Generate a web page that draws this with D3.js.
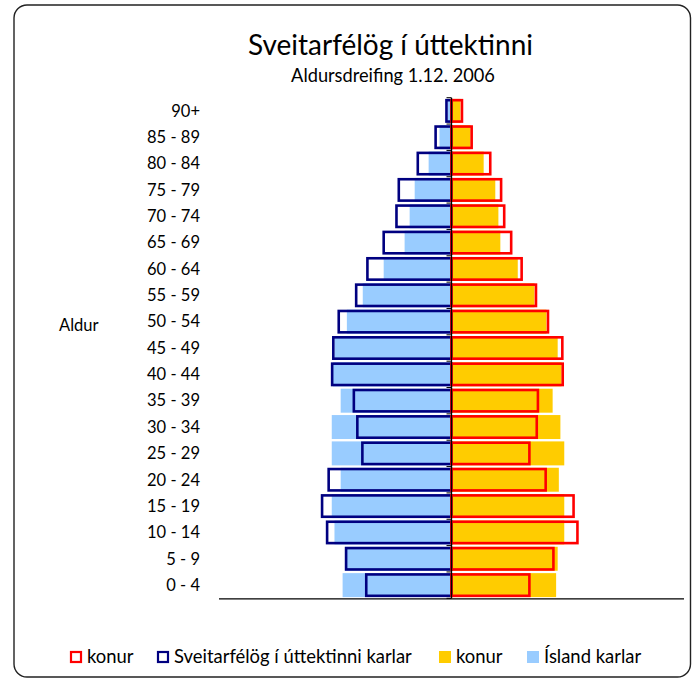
<!DOCTYPE html>
<html>
<head>
<meta charset="utf-8">
<script src="https://cdn.jsdelivr.net/npm/d3@7"></script>
<style>
  html, body { margin: 0; padding: 0; background: #fff; }
  svg { display: block; }
  text { font-family: Lato, "Open Sans", sans-serif; fill: #000; }
</style>
</head>
<body>
<svg id="chart" width="697" height="681"></svg>
<script>
// ---- Data (top to bottom) ----
const categories = ["90+", "85 - 89", "80 - 84", "75 - 79", "70 - 74", "65 - 69", "60 - 64",
  "55 - 59", "50 - 54", "45 - 49", "40 - 44", "35 - 39", "30 - 34", "25 - 29",
  "20 - 24", "15 - 19", "10 - 14", "5 - 9", "0 - 4"];

// Sveitarfélög í úttektinni (outlined bars), % share
const sveitKarlar = [0.13, 0.41, 0.87, 1.36, 1.42, 1.75, 2.17, 2.46, 2.91, 3.05, 3.08,
  2.52, 2.43, 2.30, 3.17, 3.34, 3.21, 2.72, 2.20];
const sveitKonur = [0.27, 0.52, 1.00, 1.28, 1.36, 1.54, 1.81, 2.18, 2.49, 2.86, 2.87,
  2.23, 2.20, 2.01, 2.43, 3.15, 3.25, 2.63, 2.01];

// Ísland (filled bars), % share
const islandKarlar = [0.10, 0.31, 0.59, 0.95, 1.08, 1.21, 1.75, 2.29, 2.70, 3.02, 3.06,
  2.86, 3.09, 3.09, 2.86, 3.09, 3.02, 2.75, 2.81];
const islandKonur = [0.23, 0.49, 0.83, 1.13, 1.21, 1.26, 1.71, 2.14, 2.45, 2.74, 2.84,
  2.61, 2.81, 2.91, 2.77, 2.91, 2.91, 2.74, 2.70];

const titleText = "Sveitarfélög í úttektinni";
const subtitleText = "Aldursdreifing 1.12. 2006";
const axisTitle = "Aldur";
const legendItems = [
  { label: "konur", key: "sveitKonur" },
  { label: "Sveitarfélög í úttektinni karlar", key: "sveitKarlar" },
  { label: "konur", key: "islandKonur" },
  { label: "Ísland karlar", key: "islandKarlar" }
];

// ---- Styles ----
const C = {
  sveitKarlar: "#000080",
  sveitKonur: "#FF0000",
  islandKarlar: "#99CCFF",
  islandKonur: "#FFCC00"
};

(function () {
const svg = d3.select("#chart");

function fit(sel, target) {
  const w = sel.node().getComputedTextLength();
  const fs = parseFloat(sel.attr("font-size"));
  sel.attr("font-size", fs * target / w);
}

// Outer frame
svg.append("rect")
  .attr("x", 14).attr("y", 5).attr("width", 676.5).attr("height", 672)
  .attr("rx", 13).attr("ry", 13)
  .attr("fill", "#fff").attr("stroke", "#222").attr("stroke-width", 1.4);

// Titles
const t = svg.append("text").attr("x", 390.5).attr("y", 55).attr("text-anchor", "middle")
  .attr("font-size", 26).text(titleText);
fit(t, 285);
const st = svg.append("text").attr("x", 393).attr("y", 82).attr("text-anchor", "middle")
  .attr("font-size", 16).text(subtitleText);
fit(st, 204);

// Scales
const x = d3.scaleLinear().domain([-6, 6]).range([219, 684]);
const y = d3.scaleBand().domain(categories).range([97.7, 598.3])
  .paddingInner(0.09).paddingOuter(0.045);

const rows = categories.map((c, i) => ({
  cat: c,
  sveitKarlar: sveitKarlar[i], sveitKonur: sveitKonur[i],
  islandKarlar: islandKarlar[i], islandKonur: islandKonur[i]
}));

const g = svg.append("g");

// Ísland filled bars
g.selectAll(".ik").data(rows).join("rect")
  .attr("x", d => x(-d.islandKarlar)).attr("y", d => y(d.cat))
  .attr("width", d => x(0) - x(-d.islandKarlar)).attr("height", y.bandwidth())
  .attr("fill", C.islandKarlar);
g.selectAll(".iw").data(rows).join("rect")
  .attr("x", x(0)).attr("y", d => y(d.cat))
  .attr("width", d => x(d.islandKonur) - x(0)).attr("height", y.bandwidth())
  .attr("fill", C.islandKonur);

// Sveitarfélög outlined bars
const sw = 2.6;
g.selectAll(".sk").data(rows).join("rect")
  .attr("x", d => x(-d.sveitKarlar)).attr("y", d => y(d.cat) + sw / 2)
  .attr("width", d => x(0) - x(-d.sveitKarlar)).attr("height", y.bandwidth() - sw)
  .attr("fill", "none").attr("stroke", C.sveitKarlar).attr("stroke-width", sw);
g.selectAll(".sw").data(rows).join("rect")
  .attr("x", x(0)).attr("y", d => y(d.cat) + sw / 2)
  .attr("width", d => x(d.sveitKonur) - x(0)).attr("height", y.bandwidth() - sw)
  .attr("fill", "none").attr("stroke", C.sveitKonur).attr("stroke-width", sw);

// Category axis at zero with tick marks between categories
const yTop = y.range()[0], yBottom = y.range()[1];
svg.append("line").attr("x1", x(0)).attr("x2", x(0)).attr("y1", yTop).attr("y2", yBottom)
  .attr("stroke", "#000").attr("stroke-width", 1.3);
const bounds = categories.map(c => y(c) - y.step() * y.paddingInner() / 2).concat([yBottom]);
svg.selectAll(".tk").data(bounds).join("line")
  .attr("x1", x(0) - 5).attr("x2", x(0)).attr("y1", d => d).attr("y2", d => d)
  .attr("stroke", "#000").attr("stroke-width", 1);

// Category labels
const labels = svg.selectAll(".lbl").data(categories).join("text")
  .attr("x", 200).attr("y", d => y(d) + y.bandwidth() / 2)
  .attr("dy", "0.35em").attr("text-anchor", "end").attr("font-size", 16).text(d => d);
const ref = labels.filter(d => d === "85 - 89");
const w0 = ref.node().getComputedTextLength();
const labelFs = 16 * 53 / w0;
labels.attr("font-size", labelFs);

// Baseline (value axis)
svg.append("line").attr("x1", x.range()[0]).attr("x2", x.range()[1])
  .attr("y1", 598.8).attr("y2", 598.8).attr("stroke", "#000").attr("stroke-width", 1.2);

// Axis title
svg.append("text").attr("x", 59).attr("y", 325).attr("dy", "0.35em")
  .attr("font-size", labelFs).text(axisTitle);

// Legend
const legX = [70, 157, 439, 527];
const legY = 657;
legendItems.forEach((it, i) => {
  const lg = svg.append("g");
  const isOutline = it.key.startsWith("sveit");
  if (isOutline) {
    lg.append("rect").attr("x", legX[i] + 1).attr("y", legY - 5).attr("width", 10).attr("height", 10)
      .attr("fill", "none").attr("stroke", C[it.key]).attr("stroke-width", 2.2);
  } else {
    lg.append("rect").attr("x", legX[i]).attr("y", legY - 6).attr("width", 12).attr("height", 12)
      .attr("fill", C[it.key]);
  }
  lg.append("text").attr("class", "legtxt").attr("x", legX[i] + 17).attr("y", legY).attr("dy", "0.35em")
    .attr("font-size", 16).text(it.label);
});
const legTexts = svg.selectAll(".legtxt");
const longNode = legTexts.filter(function () { return this.textContent.startsWith("Sveit"); });
const lw = longNode.node().getComputedTextLength();
legTexts.attr("font-size", 16 * 238 / lw);
})();
</script>
</body>
</html>
